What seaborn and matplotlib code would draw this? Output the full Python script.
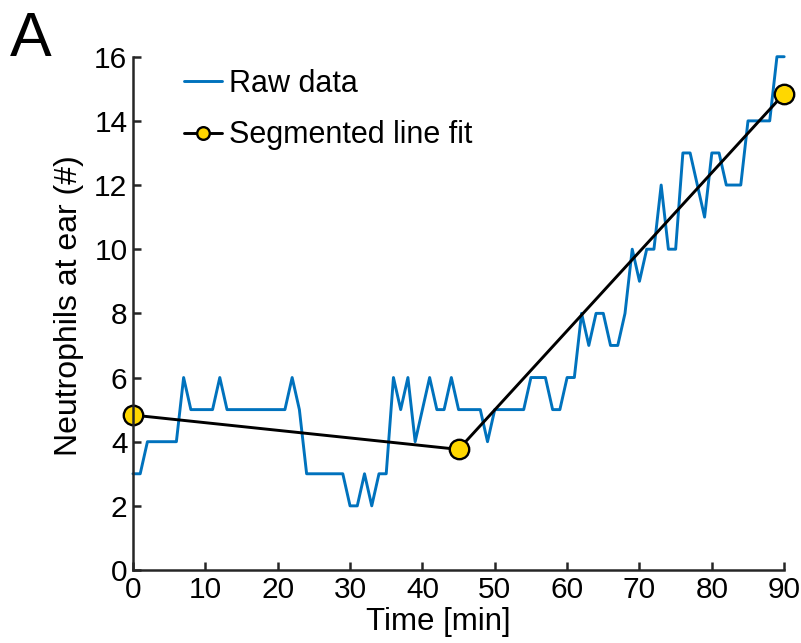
import numpy as np
import pandas as pd
import seaborn as sns
import matplotlib.pyplot as plt

# raw neutrophil counts, one per minute (0..90)
time_min = list(range(0, 91))
neutrophils = [3, 3, 4, 4, 4, 4, 4, 6, 5, 5,
               5, 5, 6, 5, 5, 5, 5, 5, 5, 5,
               5, 5, 6, 5, 3, 3, 3, 3, 3, 3,
               2, 2, 3, 2, 3, 3, 6, 5, 6, 4,
               5, 6, 5, 5, 6, 5, 5, 5, 5, 4,
               5, 5, 5, 5, 5, 6, 6, 6, 5, 5,
               6, 6, 8, 7, 8, 8, 7, 7, 8, 10,
               9, 10, 10, 12, 10, 10, 13, 13, 12, 11,
               13, 13, 12, 12, 12, 14, 14, 14, 14, 16,
               16]

# segmented line fit breakpoints
fit_time = [0, 45, 90]
fit_value = [4.83, 3.76, 14.85]

raw = pd.DataFrame({'time': time_min, 'count': neutrophils})
fit = pd.DataFrame({'time': fit_time, 'count': fit_value})

sns.set_theme(style='ticks')
plt.rcParams['font.family'] = ['Liberation Sans', 'DejaVu Sans']
plt.rcParams['text.color'] = 'black'

fig = plt.figure(figsize=(8.01, 6.43), dpi=100)
ax = fig.add_axes([0.166, 0.1135, 0.813, 0.7983])

sns.lineplot(data=raw, x='time', y='count', ax=ax, color='#0072BD',
             linewidth=2.1, label='Raw data')
sns.lineplot(data=fit, x='time', y='count', ax=ax, color='black',
             linewidth=2.1, marker='o', markersize=14,
             markerfacecolor='#FFD700', markeredgecolor='black',
             markeredgewidth=1.7, label='Segmented line fit')
for ln in ax.lines:
    ln.set_clip_on(False)

ax.set_xlim(0, 90)
ax.set_ylim(0, 16)
ax.set_xticks(range(0, 91, 10))
ax.set_yticks(range(0, 17, 2))
ax.tick_params(direction='in', length=6, width=1.8, labelsize=21.5,
               colors='#262626', labelcolor='black', pad=4)
for s in ['top', 'right']:
    ax.spines[s].set_visible(False)
for s in ['left', 'bottom']:
    ax.spines[s].set_linewidth(1.8)
    ax.spines[s].set_color('#262626')

ax.set_xlabel('Time [min]', fontsize=22.5, color='black')
ax.set_ylabel('Neutrophils at ear (#)', fontsize=23, color='black')
ax.xaxis.set_label_coords(0.4685, -0.072)
ax.yaxis.set_label_coords(-0.075, 0.515)

leg = ax.legend(loc='upper left', bbox_to_anchor=(0.06, 1.0), frameon=False,
                fontsize=22, handlelength=1.25, handletextpad=0.2,
                labelspacing=0.7, borderaxespad=0, markerscale=0.65)
for t in leg.get_texts():
    t.set_color('black')

fig.text(0.012, 0.985, 'A', fontsize=45, va='top', ha='left', color='black')

fig.savefig('out.png', dpi=100)
